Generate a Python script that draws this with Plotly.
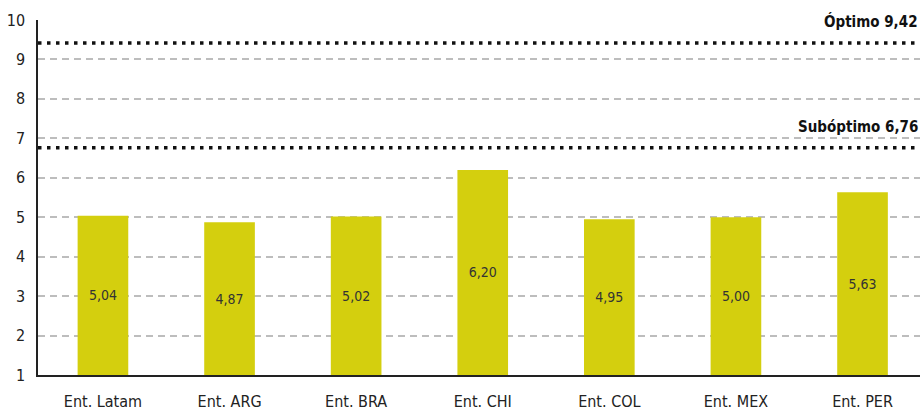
import plotly.graph_objects as go

categories = ["Ent. Latam", "Ent. ARG", "Ent. BRA", "Ent. CHI", "Ent. COL", "Ent. MEX", "Ent. PER"]
values = [5.04, 4.87, 5.02, 6.20, 4.95, 5.00, 5.63]
value_labels = ["5,04", "4,87", "5,02", "6,20", "4,95", "5,00", "5,63"]

ref_names = ["Óptimo", "Subóptimo"]
ref_values = [9.42, 6.76]
ref_labels = ["9,42", "6,76"]

y_ticks = [1, 2, 3, 4, 5, 6, 7, 8, 9, 10]

FONT = "Liberation Sans Narrow, DejaVu Sans Condensed, Arial Narrow, sans-serif"
BAR_COLOR = "#d4cf0e"

fig = go.Figure()
fig.add_trace(go.Bar(
    x=categories,
    y=[v - 1 for v in values],
    base=1,
    width=0.4,
    marker=dict(color=BAR_COLOR, line=dict(width=0)),
    text=value_labels,
    textposition="inside",
    insidetextanchor="middle",
    textfont=dict(family=FONT, size=14, color="#333333"),
    hoverinfo="skip",
))

for name, val, lab in zip(ref_names, ref_values, ref_labels):
    fig.add_shape(type="line", xref="paper", yref="y", x0=0, x1=1, y0=val, y1=val,
                  line=dict(color="#111111", width=3.5, dash="3.5px,5.5px"), layer="above")
    fig.add_annotation(xref="paper", yref="y", x=1, y=val, yshift=21,
                       xanchor="right", yanchor="middle", showarrow=False,
                       text=f"<b>{name} {lab}</b>",
                       font=dict(family=FONT, size=15, color="#111111"))

fig.update_layout(
    width=920, height=410,
    margin=dict(l=38, r=0, t=20, b=35),
    paper_bgcolor="white", plot_bgcolor="white",
    showlegend=False,
    font=dict(family=FONT, size=15, color="#222222"),
)
fig.update_xaxes(
    range=[-0.513, 6.454],
    showgrid=False,
    showline=True, linecolor="#222222", linewidth=1.5,
    ticks="", tickfont=dict(family=FONT, size=16, color="#222222"),
    ticklabelstandoff=11,
)
fig.update_yaxes(
    range=[1, 10],
    tickvals=y_ticks,
    showgrid=True, gridcolor="#bdbdbd", gridwidth=2, griddash="7px,5px",
    showline=True, linecolor="#222222", linewidth=1.5,
    zeroline=False,
    ticks="", tickfont=dict(family=FONT, size=16, color="#222222"),
    ticklabelstandoff=8,
)

fig.write_html("out.html")
